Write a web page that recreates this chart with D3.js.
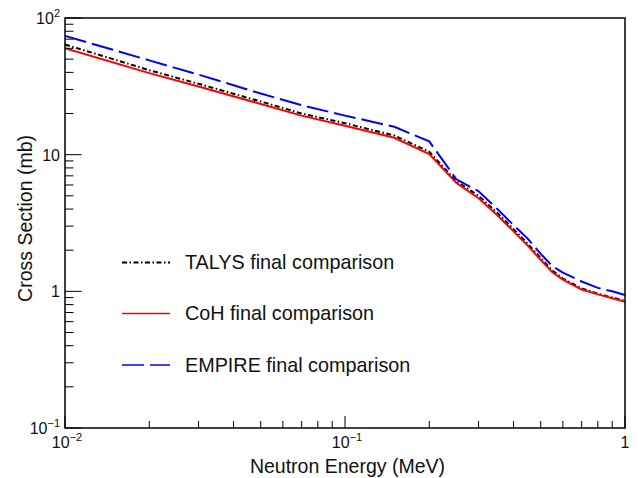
<!DOCTYPE html>
<html>
<head>
<meta charset="utf-8">
<script src="https://cdn.jsdelivr.net/npm/d3@7"></script>
<style>
  html, body { margin: 0; padding: 0; background: #fff; }
  svg { display: block; font-family: "Liberation Sans", Arial, Helvetica, sans-serif; }
</style>
</head>
<body>
<svg id="chart" width="638" height="478"></svg>
<script>
// ---- data ----
const energies = [0.01, 0.02, 0.03, 0.05, 0.07, 0.1, 0.15, 0.2, 0.25, 0.3, 0.35, 0.4, 0.45, 0.5, 0.55, 0.6, 0.7, 0.8, 0.9, 1.0];
const talys  = [64, 41.5, 33, 24.5, 20, 17, 13.8, 10.5, 6.4, 5.0, 3.75, 2.85, 2.22, 1.75, 1.42, 1.24, 1.05, 0.96, 0.9, 0.85];
const coh    = [60, 39.5, 31.5, 23.5, 19.3, 16.3, 13.3, 10.1, 6.2, 4.8, 3.6, 2.75, 2.15, 1.7, 1.38, 1.22, 1.03, 0.95, 0.89, 0.84];
const empire = [74, 49, 38.5, 28, 23, 19.3, 16.0, 12.5, 6.6, 5.4, 4.0, 3.05, 2.42, 1.88, 1.53, 1.37, 1.18, 1.06, 1.0, 0.94];
const seriesNames = ["TALYS final comparison", "CoH final comparison", "EMPIRE final comparison"];
const xTickExps = [-2, -1, 0];
const yTickExps = [-1, 0, 1, 2];
const xTitle = "Neutron Energy (MeV)";
const yTitle = "Cross Section (mb)";

// ---- layout ----
const svg = d3.select("#chart");
const L = 65, R = 625, T = 18, B = 428;
const x = d3.scaleLog().domain([0.01, 1]).range([L, R]);
const y = d3.scaleLog().domain([0.1, 100]).range([B, T]);

const styles = [
  { color: "#000000", dash: "5,2.5,1.5,2.5", width: 2 },
  { color: "#ff0000", dash: null, width: 2 },
  { color: "#0000ff", dash: "22,6", width: 2 }
];
const series = [talys, coh, empire];

// curves
const line = d3.line().x(d => x(d[0])).y(d => y(d[1]));
const plot = svg.append("g");
series.forEach((vals, i) => {
  const pts = energies.map((e, k) => [e, vals[k]]);
  plot.append("path")
    .attr("d", line(pts))
    .attr("fill", "none")
    .attr("stroke", styles[i].color)
    .attr("stroke-width", styles[i].width)
    .attr("stroke-dasharray", styles[i].dash);
});

// frame
svg.append("rect").attr("x", L).attr("y", T).attr("width", R - L).attr("height", B - T)
  .attr("fill", "none").attr("stroke", "#000").attr("stroke-width", 1.5);

// y ticks (major + minor), inside on left
const yMinor = [];
for (let e = -1; e < 2; e++) for (let m = 2; m <= 9; m++) yMinor.push(m * Math.pow(10, e));
svg.append("g").selectAll("line.ymin").data(yMinor).join("line")
  .attr("x1", L).attr("x2", L + 8.5).attr("y1", d => y(d)).attr("y2", d => y(d))
  .attr("stroke", "#000").attr("stroke-width", 1);
svg.append("g").selectAll("line.ymaj").data(yTickExps.map(e => Math.pow(10, e))).join("line")
  .attr("x1", L).attr("x2", L + 16.5).attr("y1", d => y(d)).attr("y2", d => y(d))
  .attr("stroke", "#000").attr("stroke-width", 1);

// x ticks (major + minor), inside on bottom
const xMinor = [];
for (let e = -2; e < 0; e++) for (let m = 2; m <= 9; m++) xMinor.push(m * Math.pow(10, e));
svg.append("g").selectAll("line.xmin").data(xMinor).join("line")
  .attr("x1", d => x(d)).attr("x2", d => x(d)).attr("y1", B).attr("y2", B - 7)
  .attr("stroke", "#000").attr("stroke-width", 1);
svg.append("g").selectAll("line.xmaj").data(xTickExps.map(e => Math.pow(10, e))).join("line")
  .attr("x1", d => x(d)).attr("x2", d => x(d)).attr("y1", B).attr("y2", B - 12)
  .attr("stroke", "#000").attr("stroke-width", 1);

// tick labels
function powLabel(sel, exp) {
  if (exp === 0) { sel.append("tspan").text("1"); return; }
  if (exp === 1) { sel.append("tspan").text("10"); return; }
  sel.append("tspan").text("10");
  sel.append("tspan").attr("font-size", 11).attr("dy", -7).text(exp < 0 ? "\u2212" + (-exp) : String(exp));
}
yTickExps.forEach(e => {
  const t = svg.append("text").attr("x", 60).attr("y", y(Math.pow(10, e)) + 6)
    .attr("text-anchor", "end").attr("font-size", 16).attr("fill", "#111");
  powLabel(t, e);
});
xTickExps.forEach(e => {
  const t = svg.append("text").attr("x", x(Math.pow(10, e)) + (e === 0 ? 0 : 2)).attr("y", 448)
    .attr("text-anchor", "middle").attr("font-size", 16).attr("fill", "#111");
  powLabel(t, e);
});

// axis titles
svg.append("text").attr("x", 445).attr("y", 473).attr("text-anchor", "end")
  .attr("font-size", 19.5).attr("fill", "#111").text(xTitle);
svg.append("text").attr("transform", "translate(32,135) rotate(-90)").attr("text-anchor", "end")
  .attr("font-size", 19.5).attr("fill", "#111").text(yTitle);

// legend
const legY = [262.5, 313.5, 365];
seriesNames.forEach((name, i) => {
  svg.append("line").attr("x1", 122).attr("x2", 170).attr("y1", legY[i]).attr("y2", legY[i])
    .attr("stroke", styles[i].color).attr("stroke-width", i === 0 ? 2 : 1.5)
    .attr("stroke-dasharray", styles[i].dash);
  svg.append("text").attr("x", 185).attr("y", legY[i] + 6.5).attr("font-size", 19.8)
    .attr("fill", "#111").text(name);
});
</script>
</body>
</html>
